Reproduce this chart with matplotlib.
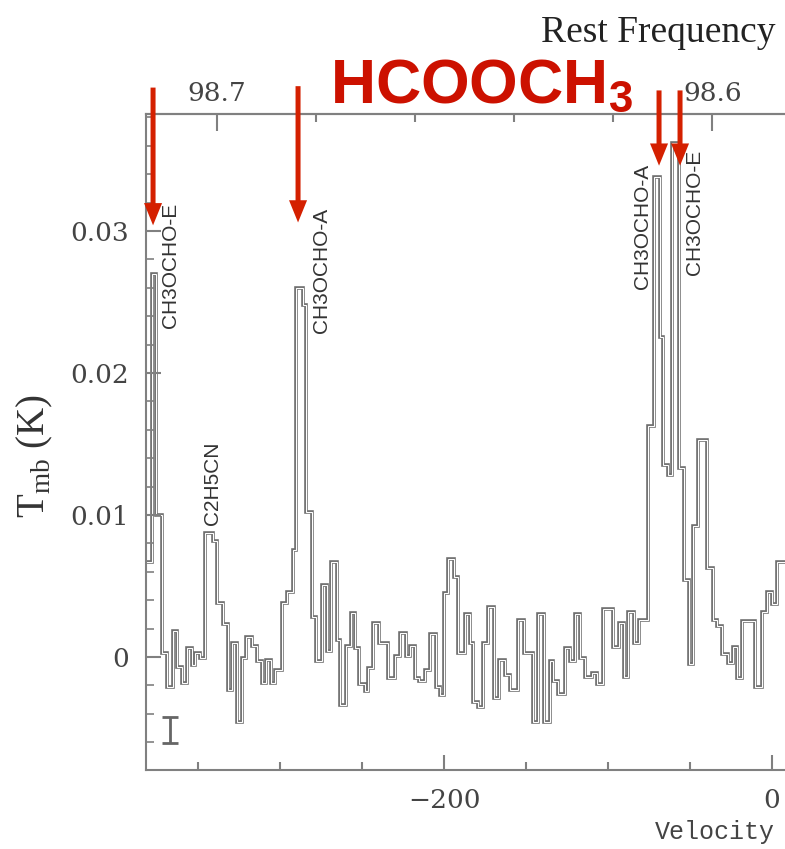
import matplotlib
matplotlib.use('Agg')
import matplotlib.pyplot as plt
from matplotlib.ticker import FixedLocator, MultipleLocator

plt.rcParams['mathtext.fontset'] = 'custom'
plt.rcParams['mathtext.rm'] = 'Liberation Serif'
plt.rcParams['mathtext.bf'] = 'Liberation Sans:bold'

# ---- spectrum data (velocity channel edges in km/s, Tmb in K) ----
velocity_edges = [-381.7, -378.0, -375.6, -372.0, -368.9, -365.2, -362.8, -359.8, -356.7, -353.7,
                  -351.8, -348.8, -345.7, -340.9, -338.4, -334.8, -331.7, -329.3, -326.2, -323.2,
                  -320.7, -317.1, -314.0, -311.0, -308.5, -305.5, -303.0, -298.8, -295.7, -292.1,
                  -290.2, -286.0, -284.1, -280.5, -278.0, -274.4, -271.3, -268.9, -265.2, -263.4,
                  -259.8, -256.7, -254.3, -251.8, -248.2, -246.3, -243.3, -239.6, -234.1, -229.9,
                  -226.8, -223.2, -220.7, -217.7, -215.2, -211.6, -208.5, -204.9, -202.4, -200.0,
                  -197.6, -193.9, -191.5, -187.2, -184.1, -182.3, -179.3, -176.2, -173.2, -169.5,
                  -166.5, -162.8, -159.8, -154.9, -151.2, -145.7, -142.7, -139.0, -135.4, -133.5,
                  -130.5, -126.2, -123.2, -120.1, -117.1, -114.0, -109.8, -106.7, -103.0, -97.0,
                  -93.3, -90.2, -87.8, -84.1, -81.1, -75.6, -72.0, -68.3, -66.5, -63.4,
                  -61.0, -56.7, -53.7, -50.6, -48.2, -45.1, -39.6, -36.0, -33.5, -30.5,
                  -26.8, -23.8, -21.3, -18.3, -10.4, -6.1, -3.0, 0.0, 3.0, 8.5]

tmb = [0.0067, 0.0270, 0.0100, 0.0003, -0.0021, 0.0018, -0.0007, -0.0018, 0.0006, -0.0006,
       0.0003, -0.0001, 0.0087, 0.0082, 0.0038, 0.0023, -0.0023, 0.0010, -0.0046, -0.0001,
       0.0014, 0.0008, -0.0003, -0.0018, -0.0002, -0.0018, -0.0009, 0.0038, 0.0046, 0.0075,
       0.0260, 0.0248, 0.0102, 0.0028, -0.0003, 0.0051, 0.0004, 0.0067, 0.0012, -0.0034,
       0.0008, 0.0031, 0.0006, -0.0019, -0.0024, -0.0008, 0.0024, 0.0010, -0.0015, 0.0001,
       0.0017, 0.0001, 0.0008, -0.0015, -0.0017, -0.0009, 0.0016, -0.0021, -0.0027, 0.0045,
       0.0069, 0.0056, 0.0003, 0.0030, 0.0010, -0.0032, -0.0035, 0.0010, 0.0035, -0.0029,
       -0.0002, -0.0013, -0.0023, 0.0026, 0.0003, -0.0046, 0.0030, -0.0046, -0.0003, -0.0017,
       -0.0026, 0.0006, -0.0003, 0.0030, -0.0001, -0.0014, -0.0011, -0.0019, 0.0034, 0.0007,
       0.0024, -0.0014, 0.0032, 0.0010, 0.0026, 0.0163, 0.0338, 0.0225, 0.0135, 0.0128,
       0.0362, 0.0133, 0.0054, -0.0005, 0.0092, 0.0153, 0.0063, 0.0026, 0.0022, 0.0002,
       -0.0004, 0.0007, -0.0015, 0.0025, -0.0021, 0.0032, 0.0046, 0.0037, 0.0067]

# line identifications
line_labels = ['CH3OCHO-E', 'C2H5CN', 'CH3OCHO-A', 'CH3OCHO-A', 'CH3OCHO-E']
label_vel = [-366.5, -340.9, -274.4, -78.7, -47.0]
label_tmb = [0.0276, 0.01225, 0.02725, 0.03035, 0.03134]

# red arrows marking HCOOCH3 lines
arrow_vel = [-377.4, -289.0, -68.9, -56.1]
arrow_tip = [0.0304, 0.0306, 0.0346, 0.0346]
arrow_tail = [0.0401, 0.0402, 0.0399, 0.0399]

# rms bar
rms_vel = -367.1
rms_center = -0.00515
rms_half = 0.0009

# axes ticks
vel_ticks = [-200, 0]
vel_tick_labels = ['\u2212200', '0']
vel_minor = [-350, -300, -250, -150, -100, -50]
tmb_ticks = [0, 0.01, 0.02, 0.03]
tmb_tick_labels = ['0', '0.01', '0.02', '0.03']
freq_ticks = [98.7, 98.6]
freq_tick_labels = ['98.7', '98.6']
freq_minor = [98.68, 98.66, 98.64, 98.62]
v_at_98p7 = -338.4
kms_per_ghz = 3020.0

AX_GRAY = '#808080'
RED = '#d42000'

fig = plt.figure(figsize=(7.85, 8.49), dpi=100)
ax = fig.add_axes([146 / 785, 79 / 849, 639 / 785, 656 / 849])

ax.stairs(tmb, velocity_edges, baseline=None, color='#6e6e6e', lw=2.6)
ax.stairs(tmb, velocity_edges, baseline=None, color='white', lw=0.8)

ax.set_xlim(-381.7, 7.9)
ax.set_ylim(-0.00796, 0.03824)

for s in ['left', 'bottom', 'top']:
    ax.spines[s].set_color(AX_GRAY)
    ax.spines[s].set_linewidth(1.5)
ax.spines['right'].set_visible(False)

ax.set_xticks(vel_ticks)
ax.set_xticklabels(vel_tick_labels)
ax.xaxis.set_minor_locator(FixedLocator(vel_minor))
ax.set_yticks(tmb_ticks)
ax.set_yticklabels(tmb_tick_labels)
ax.yaxis.set_minor_locator(MultipleLocator(0.002))

ax.tick_params(axis='x', which='major', direction='in', length=11, width=1.5,
               color=AX_GRAY, pad=13, labelsize=19, labelcolor='#444',
               labelfontfamily='DejaVu Serif', top=False)
ax.tick_params(axis='x', which='minor', direction='in', length=5.5, width=1.5,
               color=AX_GRAY, top=False)
ax.tick_params(axis='y', which='major', direction='in', length=11, width=1.5,
               color=AX_GRAY, pad=12, labelsize=19, labelcolor='#444',
               labelfontfamily='DejaVu Serif', right=False)
ax.tick_params(axis='y', which='minor', direction='in', length=6, width=1.2,
               color=AX_GRAY, right=False)


def v2f(v):
    return 98.7 - (v - v_at_98p7) / kms_per_ghz


def f2v(f):
    return (98.7 - f) * kms_per_ghz + v_at_98p7


sec = ax.secondary_xaxis('top', functions=(v2f, f2v))
sec.set_xticks(freq_ticks)
sec.set_xticklabels(freq_tick_labels)
sec.xaxis.set_minor_locator(FixedLocator(freq_minor))
sec.spines['top'].set_color(AX_GRAY)
sec.spines['top'].set_linewidth(1.5)
sec.tick_params(axis='x', which='major', direction='in', length=12, width=1.5,
                color=AX_GRAY, pad=6, labelsize=19, labelcolor='#444',
                labelfontfamily='DejaVu Serif')
sec.tick_params(axis='x', which='minor', direction='in', length=6, width=1.5,
                color=AX_GRAY)

# rms bar
ax.errorbar([rms_vel], [rms_center], yerr=[rms_half], fmt='none', ecolor='#666666',
            elinewidth=2, capsize=5.5, capthick=2)

# line labels
for lbl, v, t in zip(line_labels, label_vel, label_tmb):
    ax.text(v, t, lbl, rotation=90, ha='center', va='center', fontsize=15,
            family='Liberation Sans', color='#333333')

# arrows
for v, tip, tail in zip(arrow_vel, arrow_tip, arrow_tail):
    ax.annotate('', xy=(v, tip), xytext=(v, tail), annotation_clip=False,
                arrowprops=dict(arrowstyle='simple,head_length=1.6,head_width=1.3,tail_width=0.36',
                                color=RED, lw=0, shrinkA=0, shrinkB=0))

# axis labels
ax.set_ylabel(r'T$_{\rm mb}$ (K)', fontsize=28, family='Liberation Serif', color='#333',
              va='center', ha='center')
ax.yaxis.set_label_coords(-0.174, 0.479)
ax.set_xlabel('Velocity', fontsize=18, family='Liberation Mono', color='#444',
              ha='right', va='center')
ax.xaxis.set_label_coords(0.984, -0.0945)

fig.text(541 / 785, 1 - 33 / 849, 'Rest Frequency', fontsize=27, family='Liberation Serif',
         va='center', ha='left', color='#222')
fig.text(330 / 785, 1 - 103 / 849, r'$\mathbf{HCOOCH_3}$', fontsize=45, color='#cc1100',
         va='baseline', ha='left')

fig.savefig('out.png', dpi=100)
